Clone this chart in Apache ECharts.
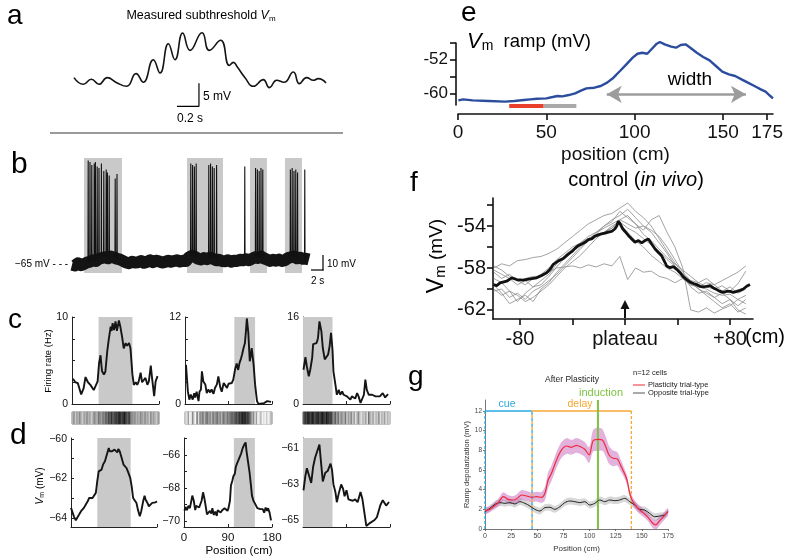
<!DOCTYPE html>
<html>
<head>
<meta charset="utf-8">
<script src="https://cdn.jsdelivr.net/npm/echarts@6.0.0/dist/echarts.min.js"></script>
<style>html,body{margin:0;padding:0;background:#fff}#chart{width:786px;height:557px}</style>
</head>
<body>
<div id="chart"></div>
<script>
const FONT = '"Liberation Sans", Arial, Helvetica, sans-serif';

// ---------- panel a : measured subthreshold Vm (time s, mV rel.) ----------
const aTime = [0.009,0.094,0.167,0.236,0.312,0.397,0.488,0.573,0.639,0.730,0.791,0.867,0.927,0.997,1.064,1.173,1.239,1.342,1.421,1.458,1.494,1.564,1.639,1.730,1.785,1.852,1.918,2.003,2.058,2.124,2.185,2.230,2.300];
const aVm = [2.10,0.65,1.74,0.65,2.10,1.01,0.22,2.97,1.09,6.01,3.12,9.49,6.01,11.81,8.04,11.88,8.04,10.22,4.78,5.43,4.42,2.10,0.22,1.67,-0.07,1.52,1.09,3.33,0.80,2.10,1.52,1.88,0.94];
const aScaleTime = [0.945, 1.145];   // 0.2 s
const aScaleVm = [-4.13, 0.87];      // 5 mV

// ---------- panel b : whole-cell trace (s, mV) ----------
const bStep = 0.5;
const bBase = [-65.5,-66,-64.5,-65.8,-65,
  -64,-63.5,-62.5,-63,-61.5,-61,-60.5,-61.2,-60,-60.8,-61.5,-62,-63,
  -64,-64.5,-63.5,-64,-63.8,-63,-64.2,-63.5,-62.5,-63.8,-62.8,-63.2,-64,-63.6,-62.8,-63.5,-63,-62.5,-63.4,-62.8,-63,
  -60.5,-59.5,-60.2,-61.5,-62,-61,-61.8,-60.8,-61.5,-62.5,-62.2,-63,
  -63.2,-62.5,-63.5,-62.8,-63,-62.2,-62.5,-61.8,-62.5,
  -61.5,-60.5,-61,-60,-61.2,-62,
  -63,-62.2,-62.8,-62,-63,-62.5,
  -61,-60.5,-60,-61.2,-60.8,-61.5,
  -61.5,-62];
const bSpikeT = [2.7,3.0,3.3,3.7,3.9,4.2,4.5,4.9,5.3,5.7,5.9,6.2,7.2,7.5, 19.8,20.1,20.4,20.7,22.8,23.1,23.4,23.7,24.1, 28.8, 30.6,30.9,31.2,31.5,31.8, 36.4,36.7,37.0,37.3,37.6, 38.8];
const bSpikePeak = [4,3,1,2,3,0,-1,2,-3,-2,-4,-6,-8,-5, 2,1,0,2,1,2,0,-1,1, 0, -1,-2,-3,-1,-2, -2,-1,-3,-2,-4, -2];
const bBoxes = [[2.0,8.33],[19.17,25.17],[29.67,32.5],[35.5,38.33]];

// ---------- panel c : firing rate (cm, Hz) ----------
const c1Pos = [2,7,12,16,19,24,28,33,38,42,45,48,53,56,59,62,66,69,73,76,80,82,84,87,90,93,97,100,104,107,111,114,118,121,125,128,132,135,138,142,145,149,152,156,159,163,166,170,173,177];
const c1Rate = [2.9,2.5,2.4,2.5,1.1,1.8,3.1,2.5,2.2,2.3,1.6,1.8,2.6,4.7,5.6,3.8,3.4,3.7,6.1,7.4,8.9,8.4,9.3,8.5,9.5,8.4,9.6,8.9,7.6,6.4,7.0,6.7,7.0,6.4,3.4,2.2,2.5,2.2,2.6,3.6,2.5,2.6,3.0,2.2,2.6,4.4,2.8,0.9,2.6,3.2];
const c2Pos = [2,6,9,12,16,19,21,24,28,30,33,35,38,42,45,48,52,55,59,62,66,69,73,76,80,83,87,90,93,97,100,104,107,110,113,116,118,121,124,126,128,131,134,136,138,142,145,149,152,156,163,170,174,178];
const c2Rate = [5.4,1.7,0.6,1.3,0.6,1.5,0.9,1.7,0.4,1.7,2.0,4.5,3.1,2.7,1.5,2.0,1.6,2.0,1.4,2.2,2.7,3.8,2.3,1.7,2.9,2.6,2.2,2.8,2.7,2.9,3.4,4.9,5.6,4.7,5.7,6.3,6.8,7.7,8.4,10.0,11.8,9.8,5.9,6.6,7.7,5.4,2.7,0.4,0,0,0.1,0.4,0.5,0.3];
const c3Pos = [1,5,8,12,15,19,21,24,28,31,34,38,41,45,48,52,55,58,61,63,67,70,74,77,81,84,88,91,94,98,101,105,108,112,115,119,122,126,129,132,136,139,143,146,150,153,159,165,170,176];
const c3Rate = [6.3,8.6,6.9,5.1,6.3,8.5,11.0,11.2,11.2,12.1,15.2,13.4,10.3,8.2,8.2,9.1,10.6,13.1,10.0,6.0,3.6,1.7,2.6,1.7,2.3,1.7,1.4,1.4,1.1,0.8,1.4,1.1,1.0,2.0,1.4,0.2,0,1.7,4.5,2.6,1.7,1.4,1.7,2.0,1.4,1.7,1.4,2.0,1.2,1.8];
const cMax = [10, 12, 16];
const placeBoxes = [[55,125],[102,145],[0,61]];
// spike-raster intensity strips (0 = none, 1 = dense), 60 bins of 3 cm
const raster1 = [0.3,0.5,0.2,0.4,0.3,0.5,0.3,0.2,0.4,0.3,0.5,0.3,0.4,0.2,0.3,0.5,0.4,0.3,0.6,0.5,0.4,0.6,0.5,0.7,0.6,0.8,0.7,0.9,0.7,0.8,0.9,0.8,1.0,0.9,0.8,0.9,1.0,0.8,0.7,0.9,0.6,0.5,0.4,0.5,0.3,0.4,0.3,0.5,0.4,0.3,0.5,0.3,0.4,0.2,0.5,0.3,0.4,0.3,0.2,0.4];
const raster2 = [0.2,0.1,0.4,0.0,0.1,0.5,0.1,0.0,0.6,0.1,0.5,0.4,0.6,0.3,0.5,0.6,0.4,0.5,0.3,0.6,0.4,0.5,0.6,0.4,0.5,0.3,0.6,0.5,0.4,0.6,0.5,0.6,0.7,0.6,0.7,0.8,0.7,0.9,0.8,1.0,0.9,1.0,0.8,0.9,0.7,0.6,0.3,0.5,0.1,0.4,0.0,0.1,0.3,0.0,0.1,0.0,0.2,0.0,0.1,0.3];
const raster3 = [0.7,0.9,0.8,1.0,0.9,0.8,1.0,0.9,0.8,0.9,1.0,0.8,0.9,1.0,0.9,0.8,1.0,0.9,0.8,0.9,0.6,0.5,0.7,0.4,0.6,0.3,0.5,0.4,0.3,0.6,0.2,0.4,0.3,0.5,0.2,0.4,0.1,0.3,0.5,0.2,0.1,0.3,0.2,0.4,0.1,0.6,0.3,0.2,0.4,0.1,0.3,0.2,0.5,0.1,0.3,0.2,0.4,0.1,0.3,0.2];

// ---------- panel d : Vm (cm, mV) ----------
const d1Pos = [0,3.5,6,10,14,17,21,24,27,31,35,38,42,45,49,52,55,58,60,64,67,71,74,76,79,81,83,86,88,91,94,97,99,102,105,108,110,113,116,119,122,124,127,130,133,137,140,144,147,151,154,156,160,163,167,170,174,177,180];
const d1Vm = [-63.49,-63.58,-63.92,-64.12,-64.08,-63.83,-63.66,-63.75,-63.49,-63.32,-63.16,-62.99,-62.90,-62.99,-63.04,-62.73,-62.14,-61.64,-61.72,-61.55,-61.30,-61.13,-61.05,-60.71,-60.46,-60.62,-60.54,-60.62,-60.71,-60.54,-60.62,-60.68,-60.51,-60.62,-60.88,-61.13,-61.30,-61.22,-61.47,-61.64,-61.55,-61.97,-62.40,-62.99,-63.04,-63.24,-63.58,-63.92,-63.66,-63.16,-62.87,-63.07,-63.24,-63.41,-63.32,-63.24,-63.32,-63.21,-63.16];
const d2Pos = [1,3,6,9,12,14,17,20,23,25,28,31,34,36,39,42,45,47,50,53,56,58,61,64,67,69,72,75,78,80,83,86,89,91,94,96,99,101,104,106,109,112,115,117,120,123,126,128,131,134,137,139,142,145,148,150,153,156,159,161,164,167,170,172,175,178];
const d2Vm = [-69.38,-69.14,-69.34,-69.08,-69.22,-68.93,-68.46,-68.77,-69.34,-69.08,-68.97,-69.18,-69.14,-68.77,-68.26,-68.67,-69.22,-69.59,-69.69,-69.38,-69.55,-69.22,-69.63,-69.43,-69.69,-69.34,-69.38,-69.49,-69.34,-69.43,-69.22,-69.14,-69.38,-69.22,-68.77,-67.85,-67.54,-67.29,-67.13,-66.72,-66.47,-66.27,-66.35,-65.90,-65.59,-65.38,-65.24,-65.79,-66.41,-67.03,-67.85,-68.46,-68.77,-68.93,-69.02,-69.22,-69.34,-69.28,-69.38,-69.28,-69.49,-69.18,-69.38,-69.22,-69.49,-69.96];
const d3Pos = [1,5,8,12,17,21,25,29,34,37,41,46,51,57,60,63,67,70,74,79,83,86,90,94,98,103,108,113,119,123,127,131,135,139,148,153,160,165,172,178];
const d3Vm = [-63.35,-62.53,-62.12,-62.04,-62.94,-62.04,-61.54,-61.46,-60.80,-61.71,-62.86,-62.37,-62.28,-61.87,-62.20,-63.02,-63.44,-64.01,-63.52,-63.02,-63.27,-63.68,-63.35,-63.85,-63.77,-63.93,-63.85,-64.01,-63.44,-63.85,-64.59,-65.33,-65.25,-65.16,-65.00,-64.84,-64.18,-63.9,-64.2,-64.0];
const dTicks = [[-60,-61,-62,-63,-64],[-65,-66,-67,-68,-69,-70],[-61,-62,-63,-64,-65]];
const dLabels = [[-60,-62,-64],[-66,-68,-70],[-61,-63,-65]];
const posTicks = [0, 90, 180];

// ---------- panel e : Vm ramp (cm, mV) ----------
const ePos = [0.2,2.9,8.3,17.4,26.5,31.9,37.3,40.9,44.6,50.0,53.6,56.3,59.1,62.7,66.3,69.9,72.7,77.2,80.8,84.4,88.0,91.7,95.3,98.9,101.6,104.3,107.1,109.8,112.5,114.3,117.0,120.7,123.4,126.1,128.8,131.5,135.2,138.8,142.4,146.0,149.6,153.3,156.9,160.5,164.1,167.8,171.4,174.1,176.8,178.3];
const eVm = [-61.49,-61.25,-61.49,-61.65,-61.80,-61.65,-61.41,-61.25,-61.10,-61.02,-60.71,-60.47,-60.55,-60.24,-59.84,-59.14,-58.66,-58.51,-58.12,-57.33,-56.16,-54.59,-53.02,-51.45,-50.52,-50.28,-50.52,-49.34,-48.16,-47.76,-48.31,-48.86,-49.10,-48.47,-48.31,-49.10,-50.28,-51.29,-52.08,-53.41,-54.75,-55.37,-55.76,-56.55,-57.33,-58.12,-58.90,-59.45,-60.47,-61.02];
const eTicksX = [0, 50, 100, 150, 175];
const eTicksY = [-48, -52, -56, -60];
const eLabelsY = [-52, -60];
const eRedBar = [29, 48.5];
const eGrayBar = [48.5, 67];
const eBarLevel = -62.8;
const eWidthArrow = [84.2, 163];
const eWidthLevel = -60.07;

// ---------- panel f : control (in vivo) (cm from plateau, mV) ----------
const fPos = [-100,-94,-88,-82,-76,-70,-64,-58,-52,-46,-40,-34,-28,-22,-16,-10,-4,2,8,14,20,26,32,38,44,50,56,62,68,74,80,86,92];
const fCellA = [-58.0,-57.6,-57.8,-57.3,-57.2,-57.0,-56.9,-56.6,-56.2,-55.6,-55.0,-54.4,-53.8,-53.4,-53.0,-52.8,-52.3,-51.8,-52.6,-53.2,-54.0,-55.2,-56.4,-57.5,-58.6,-59.2,-59.4,-59.8,-60.0,-59.7,-60.2,-59.5,-58.3];
const fCellB = [-58.4,-59.0,-58.6,-59.3,-59.0,-58.8,-58.8,-58.4,-58.0,-57.9,-57.8,-58.0,-57.7,-57.9,-57.6,-57.8,-56.9,-59.1,-58.0,-58.4,-58.3,-58.8,-59.0,-59.4,-59.0,-59.6,-59.8,-60.0,-60.4,-60.6,-60.5,-61.0,-60.6];
const fCellC = [-60.0,-60.6,-60.2,-61.2,-60.4,-59.8,-59.6,-58.8,-57.9,-57.0,-56.4,-55.8,-55.2,-54.8,-54.0,-53.6,-52.6,-53.2,-53.8,-54.4,-53.4,-53.0,-54.6,-56.0,-58.0,-62.0,-62.2,-61.8,-62.3,-61.9,-61.6,-61.0,-61.4];
const fCellD = [-59.6,-60.4,-61.4,-61.0,-60.6,-61.2,-60.0,-59.4,-58.4,-57.6,-56.8,-56.0,-55.4,-55.0,-54.6,-54.0,-53.6,-54.2,-54.6,-55.2,-55.8,-56.4,-57.2,-57.8,-58.6,-59.4,-60.0,-60.4,-60.8,-60.4,-61.0,-62.0,-62.4];
const fCellE = [-58.2,-58.6,-59.0,-59.6,-59.2,-59.8,-59.2,-58.6,-57.6,-56.8,-56.2,-55.6,-55.0,-54.6,-54.2,-53.8,-53.4,-53.0,-53.8,-54.8,-55.4,-56.2,-57.0,-57.6,-58.2,-58.8,-59.4,-59.0,-59.6,-60.2,-59.8,-60.4,-60.0];
const fCellF = [-60.2,-60.0,-60.8,-60.4,-61.0,-60.2,-59.8,-59.2,-58.6,-57.8,-57.0,-56.2,-55.4,-54.6,-54.0,-53.4,-53.0,-52.4,-53.2,-54.0,-54.6,-55.6,-56.6,-57.8,-58.8,-59.8,-60.4,-60.2,-60.8,-61.4,-61.0,-61.6,-61.0];
const fCellG = [-57.8,-58.2,-58.8,-59.2,-59.6,-59.0,-58.6,-58.0,-57.2,-56.6,-56.0,-55.6,-55.2,-54.8,-54.6,-54.2,-53.8,-54.6,-55.4,-56.0,-56.8,-57.4,-58.0,-58.4,-59.0,-59.6,-59.8,-59.4,-59.6,-59.2,-58.8,-58.4,-57.8];
const fCellH = [-59.0,-59.4,-60.2,-60.6,-61.2,-60.8,-60.2,-59.6,-58.8,-58.0,-57.4,-56.8,-56.0,-55.2,-54.6,-54.2,-53.4,-53.8,-54.2,-54.0,-54.4,-55.0,-56.0,-57.2,-58.4,-59.2,-60.0,-60.6,-61.2,-61.8,-61.4,-62.2,-61.8];
const fMeanPos = [-100.3,-97.8,-95.2,-90.2,-86.3,-82.5,-77.5,-72.4,-67.3,-63.5,-59.7,-57.1,-54.6,-50.8,-47.0,-43.2,-40.6,-38.1,-35.6,-33.0,-30.5,-27.9,-25.4,-22.9,-20.3,-17.8,-15.2,-12.7,-10.2,-7.6,-6.3,-5.1,-3.8,-1.8,0,2.5,5.1,7.6,10.2,12.7,15.2,17.8,20.3,22.9,25.4,27.9,30.5,31.7,34.3,36.8,39.4,41.9,44.4,47.0,49.5,52.1,54.6,57.1,59.7,62.2,64.8,67.3,69.8,72.4,74.9,77.5,80.0,82.5,85.1,87.6,90.1,92.7,95.2];
const fMean = [-59.58,-59.68,-59.42,-59.26,-58.94,-59.10,-59.16,-59.03,-58.94,-58.71,-58.45,-58.13,-57.65,-57.32,-57.10,-56.68,-56.45,-56.13,-55.87,-55.71,-55.55,-55.29,-55.23,-54.97,-54.84,-54.74,-54.68,-54.58,-54.52,-54.26,-54.00,-53.55,-53.77,-54.26,-54.52,-54.90,-55.23,-55.55,-55.39,-55.61,-55.39,-55.23,-55.71,-56.19,-56.52,-56.84,-57.48,-57.81,-57.97,-57.87,-58.13,-58.45,-58.84,-59.10,-59.35,-59.48,-59.58,-59.74,-59.81,-59.74,-59.68,-59.90,-60.06,-60.23,-60.32,-60.23,-60.23,-60.32,-60.23,-60.13,-60.00,-59.74,-59.58];
const fTicksX = [-80, -40, 0, 40, 80];
const fLabelsX = [-80, 0, 80];
const fTicksY = [-62, -60, -58, -56, -54, -52];
const fLabelsY = [-54, -58, -62];

// ---------- panel g : ramp depolarization (cm, mV) ----------
const gRedPos = [0,3.2,8,12.7,17.5,22.3,27,30.8,35,39.8,44.5,49.3,54.1,57.3,60.4,63.6,68.4,73.2,78,82.7,87.5,92.3,95.4,99.6,103.4,108.1,112.3,115.5,118.6,122.4,126.3,129.5,132.6,135.8,138.4,141.5,146.3,151.1,155.9,160,163.2,167,170.8,174.9];
const gRed = [1.86,1.93,2.27,2.68,3.29,3.02,2.95,3.12,3.46,3.36,3.22,3.29,3.22,3.63,4.98,5.67,7.02,8.04,8.44,8.31,8.51,8.31,8.11,7.53,8.98,9.12,9.05,8.37,7.53,7.19,7.15,6.51,5.83,4.98,3.63,2.78,2.11,1.66,1.19,0.64,0.41,0.84,1.25,1.76];
const gRedSd = [0.3,0.3,0.35,0.4,0.45,0.4,0.4,0.45,0.5,0.5,0.5,0.5,0.55,0.7,0.8,0.8,0.8,0.8,0.8,0.75,0.75,0.75,0.75,0.8,1.1,1.2,1.1,1.0,0.9,0.8,0.7,0.6,0.5,0.45,0.4,0.4,0.4,0.4,0.4,0.45,0.5,0.45,0.4,0.35];
const gBlackPos = [0,4.8,9.5,14.3,19.1,23.9,28.6,33.4,38.2,42.9,47.7,52.5,57.3,62.0,66.8,71.6,76.3,81.1,85.9,90.6,95.4,100.2,105.0,109.7,114.5,119.3,124.0,128.8,133.6,138.4,143.1,147.9,152.7,157.4,162.2,167.0,171.8,174.9];
const gBlack = [1.76,2.11,2.51,2.68,2.61,2.68,2.54,2.78,2.61,2.34,2.00,1.83,2.17,2.21,2.00,2.27,2.68,2.85,2.78,2.68,2.78,2.44,2.61,2.95,2.78,2.95,2.88,2.95,3.12,2.78,2.44,2.00,1.93,1.59,1.25,1.32,1.42,1.76];
const gBlackSd = [0.3,0.3,0.35,0.35,0.35,0.35,0.35,0.35,0.35,0.35,0.35,0.35,0.35,0.35,0.35,0.35,0.35,0.35,0.35,0.35,0.35,0.35,0.35,0.35,0.35,0.35,0.35,0.35,0.35,0.35,0.35,0.35,0.35,0.35,0.35,0.35,0.3,0.3];
const gCueStart = 0, gCueEnd = 45, gDelayEnd = 140, gInduction = 108, gZoneTop = 12;
const gTicksY = [0, 2, 4, 6, 8, 10, 12];

// ===================================================================
const zip = (xs, ys) => xs.map((x, i) => [x, ys[i]]);
const grids = [
  {left:73, top:28, width:254, height:80},     // 0 a
  {left:72, top:158, width:238, height:115},   // 1 b
  {left:72, top:317, width:87, height:87},     // 2 c1
  {left:185, top:317, width:87, height:87},    // 3 c2
  {left:303, top:317, width:87, height:87},    // 4 c3
  {left:72, top:412, width:87, height:12, show:true, borderColor:'#8a8a8a', borderWidth:1}, // 5 raster
  {left:185, top:412, width:87, height:12, show:true, borderColor:'#8a8a8a', borderWidth:1},
  {left:303, top:412, width:87, height:12, show:true, borderColor:'#8a8a8a', borderWidth:1},
  {left:71, top:438, width:86, height:89},     // 8 d1
  {left:184, top:438, width:88, height:89},    // 9 d2
  {left:303, top:438, width:87, height:89},    // 10 d3
  {left:458, top:38, width:328, height:76},    // 11 e data
  {left:456, top:43, width:10, height:62},     // 12 e y axis
  {left:493, top:198, width:260, height:121},  // 13 f
  {left:485, top:400, width:183, height:129}   // 14 g
];
const hid = (gi, min, max) => ({type:'value', gridIndex:gi, min, max, show:false});
const thin = (c, w) => ({show:true, onZero:false, lineStyle:{color:c, width:w}});
const xAxes = [], yAxes = [];
xAxes.push(hid(0, 0, 2.309)); yAxes.push(hid(0, -4.5, 12.9));
xAxes.push(hid(1, 0, 39.67)); yAxes.push(hid(1, -71, 5.7));
for (let k = 0; k < 3; k++) {
  xAxes.push({type:'value', gridIndex:2+k, min:0, max:180, axisLine:thin('#222',1),
    axisTick:{show:true, inside:true, length:3, lineStyle:{color:'#222'}, customValues:posTicks},
    axisLabel:{show:false}, splitLine:{show:false}});
  const m = cMax[k];
  yAxes.push({type:'value', gridIndex:2+k, min:0, max:m, axisLine:thin('#222',1),
    axisTick:{show:true, inside:true, length:3, lineStyle:{color:'#222'}, customValues:[0,m/4,m/2,3*m/4,m]},
    axisLabel:{customValues:[0,m], fontSize:10.5, fontFamily:FONT, color:'#111', margin:4}, splitLine:{show:false}});
}
const rasterCats = raster1.map((v, i) => i);
for (let k = 0; k < 3; k++) {
  xAxes.push({type:'category', gridIndex:5+k, data:rasterCats, show:false});
  yAxes.push({type:'category', gridIndex:5+k, data:['r'], show:false});
}
const dRanges = [[-64.46,-59.95],[-70.36,-64.97],[-65.39,-60.44]];
for (let k = 0; k < 3; k++) {
  xAxes.push({type:'value', gridIndex:8+k, min:0, max:180, axisLine:thin('#222',1),
    axisTick:{show:true, inside:true, length:3, lineStyle:{color:'#222'}, customValues:posTicks},
    axisLabel: k === 1 ? {customValues:posTicks, fontSize:11.5, fontFamily:FONT, color:'#111', margin:5} : {show:false},
    splitLine:{show:false}});
  yAxes.push({type:'value', gridIndex:8+k, min:dRanges[k][0], max:dRanges[k][1], axisLine:thin('#222',1),
    axisTick:{show:true, inside:true, length:3, lineStyle:{color:'#222'}, customValues:dTicks[k]},
    axisLabel:{customValues:dLabels[k], formatter:v => '\u2212' + Math.abs(v), fontSize:10.5, fontFamily:FONT, color:'#111', margin:4},
    splitLine:{show:false}});
}
// e
xAxes.push({type:'value', gridIndex:11, min:0, max:178.3, axisLine:thin('#111',1.6),
  axisTick:{show:true, length:6, lineStyle:{color:'#111', width:1.6}, customValues:eTicksX},
  axisLabel:{customValues:eTicksX, fontSize:19, fontFamily:FONT, color:'#111', margin:9},
  splitLine:{show:false}, name:'position (cm)', nameLocation:'middle', nameGap:31,
  nameTextStyle:{fontSize:19, fontFamily:FONT, color:'#111'}});
yAxes.push(hid(11, -64.7, -46.82));
xAxes.push(hid(12, 0, 1));
yAxes.push({type:'value', gridIndex:12, min:-62.8, max:-48, axisLine:thin('#111',1.6),
  axisTick:{show:true, length:6, lineStyle:{color:'#111', width:1.6}, customValues:eTicksY},
  axisLabel:{customValues:eLabelsY, fontSize:17, fontFamily:FONT, color:'#111', margin:8},
  splitLine:{show:false}});
// f
xAxes.push({type:'value', gridIndex:13, min:-100.6, max:97.5, axisLine:thin('#111',1.6),
  axisTick:{show:true, length:6, lineStyle:{color:'#111', width:1.6}, customValues:fTicksX},
  axisLabel:{customValues:fLabelsX, formatter:v => v === 0 ? 'plateau' : (v > 0 ? '+' + v : String(v)),
    fontSize:20, fontFamily:FONT, color:'#111', margin:10}, splitLine:{show:false}});
yAxes.push({type:'value', gridIndex:13, min:-62.86, max:-51.33, axisLine:thin('#111',1.6),
  axisTick:{show:true, length:6, lineStyle:{color:'#111', width:1.6}, customValues:fTicksY},
  axisLabel:{customValues:fLabelsY, fontSize:20, fontFamily:FONT, color:'#111', margin:7},
  splitLine:{show:false}});
// g
xAxes.push({type:'value', gridIndex:14, min:0, max:175, interval:25, axisLine:thin('#555',0.8),
  axisTick:{show:true, length:2, lineStyle:{color:'#555', width:0.8}},
  axisLabel:{fontSize:7, fontFamily:FONT, color:'#444', margin:4}, splitLine:{show:false},
  name:'Position (cm)', nameLocation:'middle', nameGap:16, nameTextStyle:{fontSize:8, fontFamily:FONT, color:'#333'}});
yAxes.push({type:'value', gridIndex:14, min:0, max:13.12, axisLine:thin('#555',0.8),
  axisTick:{show:true, length:2, lineStyle:{color:'#555', width:0.8}, customValues:gTicksY},
  axisLabel:{customValues:gTicksY, fontSize:6.5, fontFamily:FONT, color:'#444', margin:3}, splitLine:{show:false},
  name:'Ramp depolarization (mV)', nameLocation:'middle', nameGap:13, nameTextStyle:{fontSize:7.5, fontFamily:FONT, color:'#333'}});

function line(gi, data, color, width, extra) {
  return Object.assign({type:'line', xAxisIndex:gi, yAxisIndex:gi, data, symbol:'none', showSymbol:false,
    lineStyle:{color, width}, itemStyle:{color}, silent:true, animation:false, z:3}, extra || {});
}
const boxArea = ranges => ({silent:true, itemStyle:{color:'#c9c9c9'}, data:ranges.map(r => [{xAxis:r[0]}, {xAxis:r[1]}])});

const series = [];
// a
series.push(line(0, zip(aTime, aVm), '#151515', 1.6, {smooth:0.5}));
series.push(line(0, [[aScaleTime[1], aScaleVm[1]], [aScaleTime[1], aScaleVm[0]], [aScaleTime[0], aScaleVm[0]]], '#000', 1.2));
// b
series.push(line(1, bBase.map((v, i) => [i * bStep, v]), '#141414', 12, {markArea:boxArea(bBoxes), lineStyle:{color:'#141414', width:12, join:'round'}}));
const spikeData = [];
bSpikeT.forEach((t, i) => {
  const base = bBase[Math.min(bBase.length - 1, Math.round(t / bStep))];
  spikeData.push([t - 0.04, base], [t, bSpikePeak[i]], [t + 0.04, base], [t + 0.04, '-']);
});
series.push(line(1, spikeData, '#111', 1.1, {connectNulls:false}));
// c
const cPos = [c1Pos, c2Pos, c3Pos], cRate = [c1Rate, c2Rate, c3Rate];
for (let k = 0; k < 3; k++) series.push(line(2+k, zip(cPos[k], cRate[k]), '#151515', 1.9, {markArea:boxArea([placeBoxes[k]])}));
const rasters = [raster1, raster2, raster3];
const heatIdx = [];
for (let k = 0; k < 3; k++) {
  heatIdx.push(series.length);
  series.push({type:'heatmap', xAxisIndex:5+k, yAxisIndex:5+k, data:rasters[k].map((v, i) => [i, 0, v]), silent:true, animation:false});
}
// d
const dPos = [d1Pos, d2Pos, d3Pos], dVm = [d1Vm, d2Vm, d3Vm];
for (let k = 0; k < 3; k++) series.push(line(8+k, zip(dPos[k], dVm[k]), '#151515', 1.9, {markArea:boxArea([placeBoxes[k]])}));
// e
series.push(line(11, zip(ePos, eVm), '#2c4d9e', 2.4));
series.push(line(11, [[eRedBar[0], eBarLevel], [eRedBar[1], eBarLevel]], '#e8402b', 4));
series.push(line(11, [[eGrayBar[0], eBarLevel], [eGrayBar[1], eBarLevel]], '#a9a9a9', 4));
series.push(line(11, [], '#999', 1, {markLine:{silent:true, symbol:['arrow','arrow'], symbolSize:[13,15],
  label:{show:false}, lineStyle:{color:'#9c9c9c', width:2.6, type:'solid'},
  data:[[{coord:[eWidthArrow[0], eWidthLevel]}, {coord:[eWidthArrow[1], eWidthLevel]}]]}}));
// f
[fCellA, fCellB, fCellC, fCellD, fCellE, fCellF, fCellG, fCellH].forEach(c => series.push(line(13, zip(fPos, c), '#8c8c8c', 0.8)));
series.push(line(13, zip(fMeanPos, fMean), '#111', 2.8, {z:5}));
// g : shaded bands as polygons built from mean +/- sd
function bandSeries(pos, m, sd, color) {
  const upper = pos.map((x, i) => [x, m[i] + sd[i]]);
  const lower = pos.map((x, i) => [x, m[i] - sd[i]]);
  const poly = upper.concat(lower.slice().reverse());
  return {type:'custom', xAxisIndex:14, yAxisIndex:14, silent:true, animation:false, z:2, data:poly,
    renderItem:(params, api) => {
      if (params.dataIndex !== 0) return null;
      return {type:'polygon', shape:{points:poly.map(p => api.coord(p)), smooth:0.3}, style:{fill:color, stroke:null}};
    }};
}
series.push(bandSeries(gBlackPos, gBlack, gBlackSd, 'rgba(150,150,150,0.38)'));
series.push(bandSeries(gRedPos, gRed, gRedSd, 'rgba(190,85,180,0.45)'));
series.push(line(14, [[gCueStart, gZoneTop], [gCueEnd, gZoneTop]], '#2aa8e0', 1.3));
series.push(line(14, [[gCueEnd, gZoneTop], [gDelayEnd, gZoneTop]], '#f7a733', 1.3));
series.push(line(14, [[gCueStart, 0], [gCueStart, gZoneTop]], '#2aa8e0', 1.3, {lineStyle:{color:'#2aa8e0', width:1.3, type:[3,2]}}));
series.push(line(14, [[gCueEnd, 0], [gCueEnd, gZoneTop]], '#2aa8e0', 1.3, {lineStyle:{color:'#2aa8e0', width:1.3, type:[3,3]}}));
series.push(line(14, [[gCueEnd, 0], [gCueEnd, gZoneTop]], '#f7a733', 1.3, {lineStyle:{color:'#f7a733', width:1.3, type:[3,3], dashOffset:3}}));
series.push(line(14, [[gDelayEnd, 0], [gDelayEnd, gZoneTop]], '#f7a733', 1.3, {lineStyle:{color:'#f7a733', width:1.3, type:[3,2]}}));
series.push(line(14, [[gInduction, 0], [gInduction, 13.12]], '#7cc243', 2));
series.push(line(14, zip(gBlackPos, gBlack), '#222', 1, {z:6, smooth:0.3}));
series.push(line(14, zip(gRedPos, gRed), '#ee2b3b', 1.2, {z:6, smooth:0.3}));

// ---------- text & annotations ----------
function T(text, x, y, size, o) {
  o = o || {};
  const style = {text, fill:o.color || '#000', fontSize:size, fontFamily:FONT, fontStyle:o.italic ? 'italic' : 'normal',
    align:o.align || 'left', verticalAlign:o.va || 'middle'};
  if (o.rich) style.rich = o.rich;
  return {type:'text', x, y, rotation:o.rot || 0, z:100, silent:true, style};
}
const L = (x1, y1, x2, y2, stroke, w) => ({type:'line', shape:{x1, y1, x2, y2}, style:{stroke, lineWidth:w}, silent:true, z:100});
const graphics = [
  T('a', 7, 16, 28), T('b', 11, 165, 30), T('c', 8, 320, 28), T('d', 10, 436, 30),
  T('e', 461, 13, 28), T('f', 410, 183, 28), T('g', 408, 377, 28),
  T('Measured subthreshold {i|V}{s|m}', 201, 16, 12.5, {align:'center', rich:{i:{fontStyle:'italic', fontSize:12.5, fontFamily:FONT}, s:{fontSize:8, fontFamily:FONT, verticalAlign:'bottom'}}}),
  T('5 mV', 203, 97, 12), T('0.2 s', 177, 119, 12),
  L(50, 133, 343, 133, '#9a9a9a', 2),
  T('\u221265 mV - - -', 15, 264, 10), T('10 mV', 327, 264, 10), T('2 s', 311, 281, 10),
  L(323, 255, 323, 270.5, '#000', 1.2), L(311, 270, 323.5, 270, '#000', 1.2),
  T('Firing rate (Hz)', 48, 361, 9.5, {align:'center', rot:Math.PI / 2}),
  T('{i|V}{s|m} (mV)', 40, 486, 10, {align:'center', rot:Math.PI / 2, rich:{i:{fontStyle:'italic', fontSize:10.5, fontFamily:FONT}, s:{fontSize:7, fontFamily:FONT, verticalAlign:'bottom'}}}),
  T('Position (cm)', 239, 551, 11.5, {align:'center'}),
  T('{i|V}{s|m}  ramp (mV)', 467, 42, 18.5, {rich:{i:{fontStyle:'italic', fontSize:22, fontFamily:FONT}, s:{fontSize:14, fontFamily:FONT, verticalAlign:'bottom'}}}),
  T('width', 690, 80, 19, {align:'center'}),
  T('control ({i|in vivo})', 636, 180, 20, {align:'center', rich:{i:{fontStyle:'italic', fontSize:20, fontFamily:FONT}}}),
  T('{i|V}{s|m} (mV)', 437, 256, 19, {align:'center', rot:Math.PI / 2, rich:{i:{fontSize:23, fontFamily:FONT}, s:{fontSize:15, fontFamily:FONT, verticalAlign:'bottom'}}}),
  T('(cm)', 745, 337, 20),
  L(625, 318, 625, 307, '#111', 2),
  {type:'polygon', shape:{points:[[620.5, 309], [629.5, 309], [625, 300]]}, style:{fill:'#111'}, silent:true, z:100},
  T('After Plasticity', 572, 380, 8.5, {align:'center', color:'#222'}),
  T('induction', 601, 393, 11, {align:'center', color:'#7cc243'}),
  T('cue', 507, 404, 10.5, {align:'center', color:'#2aa8e0'}),
  T('delay', 580, 404, 10.5, {align:'center', color:'#f7a733'}),
  T('n=12 cells', 633, 373, 7.5, {color:'#222'}),
  L(633, 385, 645, 385, '#ee2b3b', 1), L(633, 393, 645, 393, '#555', 1),
  T('Plasticity trial-type', 648, 385, 7.5, {color:'#222'}),
  T('Opposite trial-type', 648, 393, 7.5, {color:'#222'})
];

const chart = echarts.init(document.getElementById('chart'), null, {renderer:'canvas'});
chart.setOption({
  animation:false,
  backgroundColor:'#fff',
  textStyle:{fontFamily:FONT},
  grid:grids, xAxis:xAxes, yAxis:yAxes,
  visualMap:[{show:false, type:'continuous', min:0, max:1, seriesIndex:heatIdx, inRange:{color:['#f5f5f5','#1c1c1c']}}],
  series,
  graphic:graphics
});
</script>
</body>
</html>
